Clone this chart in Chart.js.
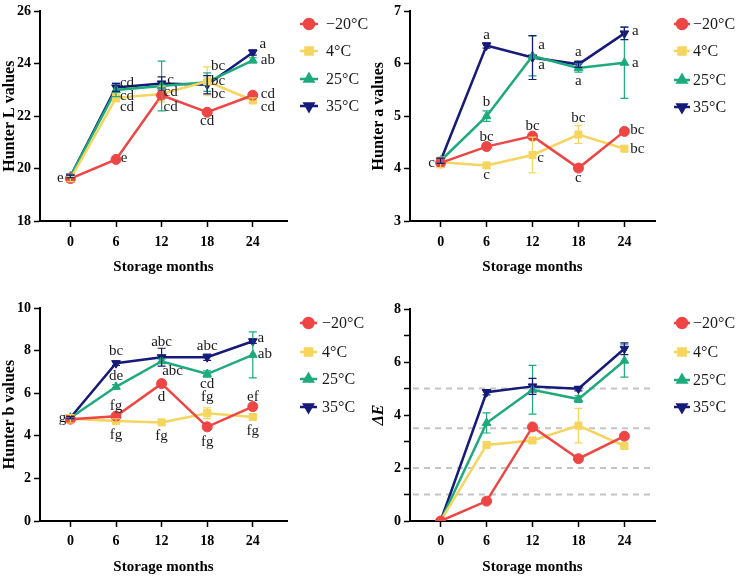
<!DOCTYPE html>
<html>
<head>
<meta charset="utf-8">
<script src="https://cdn.jsdelivr.net/npm/chart.js"></script>
<style>
    body { margin: 0; background: #fff; }
    canvas { position: absolute; }
</style>
</head>
<body>
<canvas id="chartL" width="369" height="290" style="left:0;top:0"></canvas>
<canvas id="chartA" width="369" height="290" style="left:369px;top:0"></canvas>
<canvas id="chartB" width="369" height="290" style="left:0;top:290px"></canvas>
<canvas id="chartE" width="369" height="290" style="left:369px;top:290px"></canvas>
<script>
/**
 * Data.
 */

var months       = [0, 6, 12, 18, 24];
var seriesLabels = ['−20°C', '4°C', '25°C', '35°C'];

// Hunter L
var lValues = [
    [19.62, 20.35, 22.80, 22.15, 22.80],
    [19.60, 22.70, 22.85, 23.33, 22.60],
    [19.70, 23.00, 23.15, 23.30, 24.13],
    [19.70, 23.10, 23.25, 23.20, 24.43]
];
var lErrors = [
    [0.15, 0.10, 0.10, 0.10, 0.10],
    [0.10, 0.15, 0.30, 0.55, 0.10],
    [0.05, 0.25, 0.95, 0.35, 0.10],
    [0.05, 0.15, 0.25, 0.35, 0.10]
];
var lLetters = [
    ['e', 'e',  'cd', 'cd', 'cd'],
    ['',  'cd', 'cd', 'bc', 'cd'],
    ['',  'cd', '',   'bc', 'ab'],
    ['',  'cd', 'c',  'bc', 'a']
];

// Hunter a
var aValues = [
    [4.11, 4.42, 4.62, 4.01, 4.71],
    [4.12, 4.06, 4.26, 4.65, 4.38],
    [4.15, 5.00, 6.15, 5.92, 6.02],
    [4.15, 6.35, 6.12, 5.99, 6.58]
];
var aErrors = [
    [0.08, 0.05, 0.05, 0.05, 0.05],
    [0.10, 0.05, 0.34, 0.17, 0.05],
    [0.05, 0.10, 0.38, 0.08, 0.68],
    [0.05, 0.05, 0.42, 0.06, 0.12]
];
var aLetters = [
    ['c', 'bc', 'bc', 'c',  'bc'],
    ['',  'c',  'c',  'bc', 'bc'],
    ['',  'b',  'a',  'a',  'a'],
    ['',  'a',  'a',  'a',  'a']
];

// Hunter b
var bValues = [
    [4.78, 4.92, 6.45, 4.42, 5.37],
    [4.80, 4.70, 4.63, 5.06, 4.88],
    [4.85, 6.30, 7.50, 6.90, 7.80],
    [4.85, 7.41, 7.69, 7.69, 8.44]
];
var bErrors = [
    [0.15, 0.10, 0.10, 0.10, 0.10],
    [0.20, 0.10, 0.10, 0.25, 0.10],
    [0.05, 0.10, 0.10, 0.15, 1.08],
    [0.05, 0.10, 0.42, 0.15, 0.10]
];
var bLetters = [
    ['g', 'fg', 'd',   'fg',  'ef'],
    ['',  'fg', 'fg',  'fg',  'fg'],
    ['',  'de', 'abc', 'cd',  'ab'],
    ['',  'bc', 'abc', 'abc', 'a']
];

// Delta E
var eValues = [
    [0, 0.75, 3.55, 2.35, 3.20],
    [0, 2.87, 3.04, 3.60, 2.83],
    [0, 3.70, 4.95, 4.60, 6.05],
    [0, 4.86, 5.08, 4.99, 6.50]
];
var eErrors = [
    [0, 0.05, 0.05, 0.05, 0.10],
    [0, 0.10, 0.10, 0.65, 0.10],
    [0, 0.38, 0.92, 0.12, 0.62],
    [0, 0.10, 0.30, 0.08, 0.22]
];
var eRefLevels = [1, 2, 3.5, 5];


/**
 * Look.
 */

var seriesColors = ['#EE4545', '#F5D55E', '#1DAA7C', '#161A78'];
var pointStyles  = ['circle', 'rect', 'triangle', 'triangle'];
var pointTurns   = [0, 0, 0, 180];
var fontFamily   = '"Liberation Serif", "Times New Roman", serif';

// letter offsets (dx, dy) from each point, pixels
var lOffsets = [
    [[-10, 0], [8, -1], [9, 12], [0, 9], [15, -1]],
    [[0, 0], [11, 9], [9, -2], [11, -15], [15, 7]],
    [[0, 0], [11, 6], [0, 0], [11, -1], [15, 0]],
    [[0, 0], [11, -4], [9, -3], [11, 9], [10, -8]]
];
var aOffsets = [
    [[-9, 0], [0, -10], [0, -10], [0, 10], [13, -1]],
    [[0, 0], [0, 10], [8, 3], [0, -16], [13, 0]],
    [[0, 0], [0, -14], [9, 9], [0, 13], [11, 0]],
    [[0, 0], [0, -10], [9, -12], [0, -12], [11, -2]]
];
var bOffsets = [
    [[-8, -1], [0, -10], [0, 13], [0, 15], [0, -10]],
    [[0, 0], [0, 14], [0, 14], [0, -16], [0, 14]],
    [[0, 0], [0, -11], [11, 10], [0, 10], [12, -1]],
    [[0, 0], [0, -12], [0, -15], [0, -11], [8, -3]]
];


function buildChart(id, values, errors, letters, offsets, opt) {

    var errorBars = {
        id: 'errorBars',
        afterDatasetsDraw(chart) {
            var c = chart.ctx;
            var yScale = chart.scales.y;
            chart.data.datasets.forEach((ds, i) => {
                var meta = chart.getDatasetMeta(i);
                c.save();
                c.strokeStyle = seriesColors[i];
                c.lineWidth = 1.2;
                meta.data.forEach((pt, j) => {
                    var e = errors[i][j];
                    if (!e) return;
                    var v = values[i][j];
                    var y1 = yScale.getPixelForValue(v + e);
                    var y2 = yScale.getPixelForValue(v - e);
                    c.beginPath();
                    c.moveTo(pt.x, y1); c.lineTo(pt.x, y2);
                    c.moveTo(pt.x - 4, y1); c.lineTo(pt.x + 4, y1);
                    c.moveTo(pt.x - 4, y2); c.lineTo(pt.x + 4, y2);
                    c.stroke();
                });
                c.restore();
            });
        }
    };

    var letterLabels = {
        id: 'letterLabels',
        afterDraw(chart) {
            if (!letters) return;
            var c = chart.ctx;
            c.save();
            c.font = '15px ' + fontFamily;
            c.fillStyle = '#1a1a1a';
            c.textAlign = 'center';
            c.textBaseline = 'middle';
            letters.forEach((row, i) => {
                var meta = chart.getDatasetMeta(i);
                row.forEach((txt, j) => {
                    if (!txt) return;
                    var pt = meta.data[j];
                    c.fillText(txt, pt.x + offsets[i][j][0], pt.y + offsets[i][j][1]);
                });
            });
            c.restore();
        }
    };

    var refLines = {
        id: 'refLines',
        beforeDatasetsDraw(chart) {
            if (!opt.refLevels) return;
            var c = chart.ctx;
            var area = chart.chartArea;
            c.save();
            c.strokeStyle = '#c4c4c4';
            c.lineWidth = 2;
            c.setLineDash([6, 5]);
            opt.refLevels.forEach(level => {
                var y = chart.scales.y.getPixelForValue(level);
                c.beginPath();
                c.moveTo(area.left + 3, y);
                c.lineTo(area.right - 4, y);
                c.stroke();
            });
            c.restore();
        }
    };

    var sideLegend = {
        id: 'sideLegend',
        afterDraw(chart) {
            var c = chart.ctx;
            var lg = opt.legend;
            c.save();
            seriesLabels.forEach((name, i) => {
                var y = lg.rows[i];
                c.strokeStyle = seriesColors[i];
                c.fillStyle = seriesColors[i];
                c.lineWidth = 2.5;
                c.beginPath();
                c.moveTo(lg.x0, y); c.lineTo(lg.x1, y);
                c.stroke();
                Chart.helpers.drawPoint(c, {
                    pointStyle: pointStyles[i], radius: 5, rotation: pointTurns[i], borderWidth: 1
                }, (lg.x0 + lg.x1) / 2, y);
                c.fillStyle = '#1a1a1a';
                c.font = '16px ' + fontFamily;
                c.textAlign = 'left';
                c.textBaseline = 'middle';
                c.fillText(name, lg.text, y + 1);
            });
            c.restore();
        }
    };

    var ctx = document.getElementById(id).getContext('2d');

    return new Chart(ctx, {
        type: 'line',

        data: {
            datasets: seriesLabels.map((name, i) => ({
                label: name,
                data: months.map((m, j) => ({x: m, y: values[i][j]})),
                borderColor: seriesColors[i],
                backgroundColor: seriesColors[i],
                borderWidth: 2.5,
                pointStyle: pointStyles[i],
                pointRotation: pointTurns[i],
                pointRadius: 5,
                pointBorderWidth: 1,
                tension: 0
            }))
        },

        options: {
            responsive: false,
            animation: false,
            layout: {padding: {top: opt.top, right: opt.right, left: 0, bottom: 0}},
            scales: {
                x: {
                    type: 'linear',
                    min: -4,
                    max: opt.xMax,
                    afterBuildTicks: s => { s.ticks = months.map(v => ({value: v})); },
                    afterFit: s => { s.height = opt.xHeight; },
                    grid: {drawOnChartArea: false, tickLength: 6, tickColor: '#000', tickWidth: 1.5},
                    border: {color: '#000', width: 2},
                    ticks: {color: '#000', padding: opt.xTickPad, maxRotation: 0,
                            font: {family: fontFamily, size: 14, weight: 'bold'}},
                    title: {display: true, text: 'Storage months', color: '#000',
                            padding: {top: 0, bottom: opt.xTitlePad},
                            font: {family: fontFamily, size: 15, weight: 'bold'}}
                },
                y: {
                    min: opt.yMin,
                    max: opt.yMax,
                    afterFit: s => { s.width = opt.yWidth; },
                    grid: {drawOnChartArea: false, tickLength: 6, tickColor: '#000', tickWidth: 1.5},
                    border: {color: '#000', width: 2},
                    ticks: {color: '#000', padding: 3, stepSize: opt.yStep,
                            callback: opt.yLabel || (v => v),
                            font: {family: fontFamily, size: 14, weight: 'bold'}},
                    title: {display: true, text: opt.yTitle, color: '#000',
                            padding: {top: 0, bottom: 0},
                            font: {family: fontFamily, size: 16, weight: 'bold', style: opt.yStyle || 'normal'}}
                }
            },
            plugins: {
                legend: {display: false},
                tooltip: {enabled: false}
            }
        },

        plugins: [refLines, errorBars, letterLabels, sideLegend]
    });
}


buildChart('chartL', lValues, lErrors, lLetters, lOffsets, {
    top: 9, right: 82, yWidth: 40, xHeight: 69, xMax: 28.5, xTickPad: 7, xTitlePad: 14,
    yMin: 18, yMax: 26, yStep: 2, yTitle: 'Hunter L values',
    legend: {x0: 300, x1: 318, text: 326, rows: [24, 51, 79, 106]}
});

buildChart('chartA', aValues, aErrors, aLetters, aOffsets, {
    top: 9, right: 83, yWidth: 41, xHeight: 69, xMax: 28, xTickPad: 7, xTitlePad: 14,
    yMin: 3, yMax: 7, yStep: 1, yTitle: 'Hunter a values',
    legend: {x0: 305, x1: 321, text: 324, rows: [24, 51, 80, 107]}
});

buildChart('chartB', bValues, bErrors, bLetters, bOffsets, {
    top: 18, right: 82, yWidth: 40, xHeight: 59, xMax: 28.5, xTickPad: 6, xTitlePad: 4,
    yMin: 0, yMax: 10, yStep: 2, yTitle: 'Hunter b values',
    legend: {x0: 300, x1: 317, text: 322, rows: [33, 62, 89, 117]}
});

buildChart('chartE', eValues, eErrors, null, null, {
    top: 19, right: 83, yWidth: 41, xHeight: 59, xMax: 28, xTickPad: 6, xTitlePad: 4,
    yMin: 0, yMax: 8, yStep: 1, yTitle: 'ΔE', yStyle: 'italic',
    yLabel: v => (v % 2 === 0 ? v : ''),
    refLevels: eRefLevels,
    legend: {x0: 305, x1: 321, text: 324, rows: [33, 62, 90, 117]}
});
</script>
</body>
</html>
